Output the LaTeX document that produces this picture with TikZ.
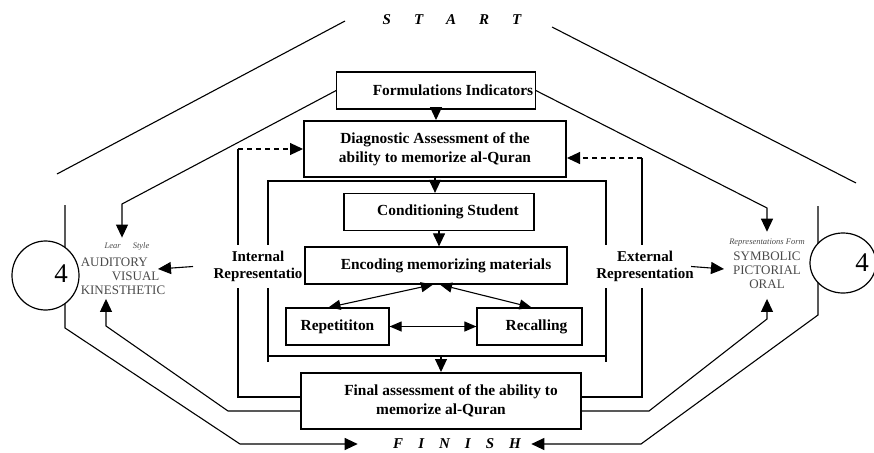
\documentclass[tikz,border=0pt]{standalone}
\usepackage{fontspec}
\setmainfont{Liberation Serif}
\usepackage{xcolor}
\usetikzlibrary{arrows.meta,shapes.geometric}

\definecolor{listgray}{HTML}{4A4A4A}

\tikzset{
    box/.style={draw, line width=1.2pt, minimum height=37pt, inner sep=2pt,
        align=center, font=\fontsize{15.4}{19}\selectfont\bfseries},
    bigbox/.style={box, line width=2pt, minimum height=56pt},
    arr/.style={-{Triangle[length=13pt,width=12pt]}},
    dblarr/.style={{Triangle[length=12pt,width=10pt]}-{Triangle[length=12pt,width=10pt]}},
    dasharr/.style={arr, dash pattern=on 5pt off 4pt},
    sidelbl/.style={fill=white, inner xsep=1pt, inner ysep=6pt, align=center,
        font=\fontsize{15}{17}\selectfont\bfseries},
    lstxt/.style={text=listgray, inner sep=0pt, font=\fontsize{13}{14}\selectfont},
    ttl/.style={text=listgray, inner sep=0pt, font=\fontsize{8.5}{9}\selectfont\itshape},
    ends/.style={inner sep=0pt, font=\fontsize{15}{15}\selectfont\bfseries\itshape},
    ring/.style={ellipse, draw, fill=white, line width=1.2pt},
    num/.style={inner sep=0pt, font=\fontsize{27}{27}\selectfont}
}

\begin{document}
\begin{tikzpicture}[x=1pt,y=-1pt,line width=1.1pt]
    \useasboundingbox (0,0) rectangle (874,452);

    % 开始和结束
    \node[ends] (start) at (452,20) {S\hspace{23pt}T\hspace{23pt}A\hspace{23pt}R\hspace{23pt}T};
    \node[ends] (finish) at (457,444) {F\hspace{15pt}I\hspace{15pt}N\hspace{15pt}I\hspace{15pt}S\hspace{15pt}H};

    % 中间的方框
    \node[box, minimum width=190pt] (form) at (436,90.5) {\hspace*{34pt}Formulations Indicators};
    \node[bigbox, minimum width=262pt] (diag) at (435,149)
        {Diagnostic Assessment of the\\ability to memorize al-Quran};
    \node[box, minimum width=190pt] (cond) at (439,212) {\hspace*{18pt}Conditioning Student};
    \node[box, minimum width=262pt] (enc) at (436,265.5) {\hspace*{20pt}Encoding memorizing materials};
    \node[box, minimum width=103pt] (rep) at (337.5,326.5) {Repetititon};
    \node[box, minimum width=105pt] (rec) at (529.5,326.5) {\hspace*{14pt}Recalling};
    \node[bigbox, minimum width=280pt] (final) at (441,401)
        {\hspace*{20pt}Final assessment of the ability to\\memorize al-Quran};

    % 框架的点
    \coordinate (itl) at (268,181);
    \coordinate (ibr) at (606,356);
    \coordinate (ol) at (238,149);
    \coordinate (or) at (642,158);

    % 内框
    \draw (268,362) -- (itl) -- (606,181) -- (606,362);
    \draw (268,356) -- (ibr);

    % 外框
    \draw ([yshift=4pt]final.west) -| (ol);
    \draw[dasharr] (ol) -- (diag.west);
    \draw ([yshift=4pt]final.east) -| (or);
    \draw[dasharr] (or) -- (or -| diag.east);

    % 方框之间的箭头
    \draw[arr] (form.south) -- (form.south |- diag.north);
    \draw[arr] (diag.south) -- (diag.south |- cond.north);
    \draw[arr] (cond.south) -- (cond.south |- enc.north);
    \draw[dblarr] ([xshift=-3pt]enc.south) -- ([xshift=-9pt]rep.north);
    \draw[dblarr] ([xshift=4pt]enc.south) -- ([xshift=2pt]rec.north);
    \draw[dblarr] (rep.east) -- (rec.west);
    \draw[arr] (final.north |- ibr) -- (final.north);

    % 两边的文字
    \node[sidelbl] (intl) at (258,266.5) {Internal\\Representatio};
    \node[sidelbl] (extl) at (645,266.5) {External\\Representation};

    \node[ttl] (lear) at (127,246) {Lear\hspace{12pt}Style};
    \node[lstxt, align=left] (lst) at (123,276) {AUDITORY\\\hspace*{31pt}VISUAL\\KINESTHETIC};
    \node[ttl] (rtitle) at (767,243) {Representations Form};
    \node[lstxt, align=center] (rlst) at (767,270) {SYMBOLIC\\PICTORIAL\\ORAL};

    \coordinate (ltip) at (158,269);
    \coordinate (rtip) at (724,269);
    \draw[arr] ([xshift=-19pt]intl.west) -- (ltip);
    \draw[arr] ([xshift=-4pt]extl.east) -- (rtip);

    % 上面的斜线
    \draw (57,174) -- (345,21);
    \draw (552,27) -- (856,183);

    \coordinate (lt) at (122,204);
    \coordinate (rt) at (767,208);
    \draw[arr, shorten >=4pt] (form.west) -- (lt) -- (lt |- lear.north);
    \draw[arr, shorten >=7pt] (form.east) -- (rt) -- (rt |- rtitle.north);

    % 下面的箭头
    \coordinate (lk) at (228,411);
    \coordinate (lb) at (106,326);
    \coordinate (rk) at (649,411);
    \coordinate (rb) at (767,319);
    \draw[arr, shorten >=4pt] ([yshift=-10pt]final.west) -- (lk) -- (lb) -- (lb |- lst.south);
    \draw[arr, shorten >=10pt] ([yshift=-10pt]final.east) -- (rk) -- (rb) -- (rb |- rlst.south);

    % 到结束的大回路
    \draw[arr, shorten >=35pt] (65,205) -- (65,328) -- (240,444) -- (finish.west);
    \draw[arr, shorten >=10pt] (818,206) -- (818,315) -- (641,444) -- (finish.east);

    % 圆圈
    \node[ring, minimum width=67pt, minimum height=69pt] (lring) at (45.5,275.5) {};
    \node[num] (lnum) at (61,274) {4};
    \node[ring, minimum width=66pt, minimum height=60pt] (rring) at (843,263) {};
    \node[num] (rnum) at (862,263) {4};
\end{tikzpicture}
\end{document}
